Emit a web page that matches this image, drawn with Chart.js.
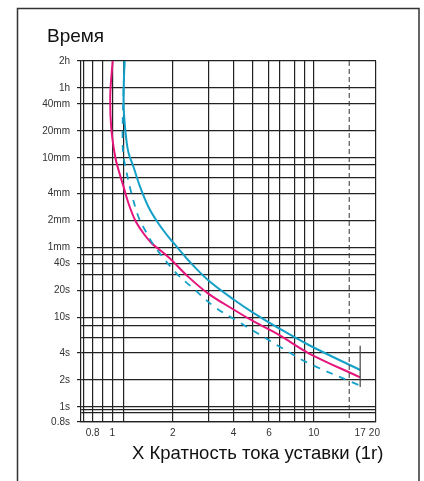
<!DOCTYPE html>
<html><head><meta charset="utf-8">
<script src="https://cdn.jsdelivr.net/npm/chart.js@4/dist/chart.umd.min.js"></script>
<style>html,body{margin:0;padding:0;background:#fff}canvas{display:block}</style>
</head><body>
<canvas id="c" width="424" height="481"></canvas>
<script>
// ---- axis ranges & ticks ----
const xMin = 0.717, xMax = 20.37;
const yMin = 0.68, yMax = 7200;
const xTickValues = [0.717, 0.8, 0.9, 1, 1.14, 2, 3, 4, 5, 6, 6.8, 8, 9, 10, 17, 20, 20.37];
const xTickLabels = ['', '0.8', '', '1', '', '2', '', '4', '', '6', '', '', '', '10', '17', '20', ''];
const xNoGrid = [17, 20];
const yTickValues = [7200, 3600, 2400, 1200, 600, 500, 360, 240, 120, 60, 50, 40, 30, 20, 10, 8, 6, 4, 2, 1, 0.93, 0.86, 0.68];
const yTickLabels = ['2h', '1h', '40mm', '20mm', '10mm', '', '', '4mm', '2mm', '1mm', '', '40s', '', '20s', '10s', '', '', '4s', '2s', '1s', '', '', '0.8s'];

// ---- texts ----
const titleText = 'Время';
const xTitleText = 'X Кратность тока уставки (1r)';

// ---- series (multiple of setting, time in seconds) ----
const magentaX = [1.005, 0.978, 0.989, 1.035, 1.075, 1.138, 1.204, 1.298, 1.428, 1.569, 1.724, 1.968, 2.379, 2.985, 4.036, 5.063, 6.72, 9.45, 16.98];
const magentaY = [7200, 3006, 1289, 613, 439, 286, 186.6, 121.6, 86.4, 66.8, 56.3, 43.5, 28.4, 18.5, 12.06, 8.93, 6.35, 3.97, 2.14];

const cyanX = [1.151, 1.138, 1.159, 1.202, 1.275, 1.374, 1.511, 1.693, 1.896, 2.123, 2.379, 2.985, 4.036, 5.063, 6.72, 9.45, 16.98];
const cyanY = [7200, 2578, 1289, 696, 477, 286, 171, 111.6, 79.2, 58.8, 43.5, 26.1, 15.6, 11.08, 7.54, 4.91, 2.585];

const dashX = [1.151, 1.135, 1.125, 1.139, 1.181, 1.24, 1.349, 1.454, 1.628, 2.083, 2.47, 3.217, 4.355, 5.26, 6.99, 9.45, 16.98];
const dashY = [7200, 2646, 948, 613, 403, 251, 132.3, 94, 61.2, 30.9, 21.9, 13.1, 8.57, 6.63, 4.51, 3.07, 1.73];

const limitLineX = [15, 15];
const limitLineY = [7200, 0.68];
const endLineX = [17, 17];
const endLineY = [4.8, 1.67];

const zip = (xs, ys) => xs.map((x, i) => ({x, y: ys[i]}));
const FONT = '"Liberation Sans", Arial, sans-serif';

const framePlugin = {
  id: 'frame',
  beforeDraw(chart) {
    const c = chart.ctx;
    c.save();
    c.fillStyle = '#fff';
    c.fillRect(0, 0, chart.width, chart.height);
    c.strokeStyle = '#333';
    c.lineWidth = 1.5;
    c.strokeRect(17.5, 8.5, 401.5, 490);
    c.restore();
  },
  afterDraw(chart) {
    const c = chart.ctx;
    c.save();
    c.fillStyle = '#111';
    c.textBaseline = 'middle';
    c.textAlign = 'left';
    c.font = '19px ' + FONT;
    c.fillText(titleText, 47, 37);
    c.font = '18.5px ' + FONT;
    c.fillText(xTitleText, 132, 454);
    c.restore();
  }
};

const curve = (xs, ys, color, width, dash) => ({
  data: zip(xs, ys), showLine: true, borderColor: color, borderWidth: width,
  borderDash: dash || [], pointRadius: 0, tension: 0.35
});

new Chart(document.getElementById('c'), {
  type: 'scatter',
  data: {
    datasets: [
      {data: zip(limitLineX, limitLineY), showLine: true, borderColor: '#333', borderWidth: 1, borderDash: [5, 3], pointRadius: 0, tension: 0},
      {data: zip(endLineX, endLineY), showLine: true, borderColor: '#444', borderWidth: 1.2, pointRadius: 0, tension: 0},
      curve(dashX, dashY, '#15a0c8', 1.8, [7, 7]),
      curve(cyanX, cyanY, '#15a0c8', 2),
      curve(magentaX, magentaY, '#e6157c', 2)
    ]
  },
  options: {
    responsive: false,
    animation: false,
    devicePixelRatio: 1,
    events: [],
    layout: {padding: {left: 0, right: 48, top: 61, bottom: 39}},
    plugins: {legend: {display: false}, tooltip: {enabled: false}, title: {display: false}},
    scales: {
      x: {
        type: 'logarithmic', min: xMin, max: xMax,
        afterBuildTicks: s => { s.ticks = xTickValues.map(v => ({value: v})); },
        afterFit: s => { s.height = 20; },
        ticks: {autoSkip: false, minRotation: 0, maxRotation: 0, padding: 5, color: '#333',
          font: {size: 10, family: FONT}, callback: (v, i) => xTickLabels[i]},
        grid: {drawTicks: false, lineWidth: 1.2,
          color: ctx => (ctx.tick && xNoGrid.includes(ctx.tick.value)) ? 'rgba(0,0,0,0)' : '#222'},
        border: {display: true, color: '#222', width: 1.2}
      },
      y: {
        type: 'logarithmic', min: yMin, max: yMax,
        afterBuildTicks: s => { s.ticks = yTickValues.map(v => ({value: v})); },
        afterFit: s => { s.width = 81; },
        ticks: {autoSkip: false, padding: 7, color: '#333',
          font: {size: 10, family: FONT}, callback: (v, i) => yTickLabels[i]},
        grid: {drawTicks: true, tickLength: 4, lineWidth: 1.2, color: '#222',
          tickColor: ctx => (ctx.index !== undefined && yTickLabels[ctx.index]) ? '#222' : 'rgba(0,0,0,0)'},
        border: {display: true, color: '#222', width: 1.2}
      }
    }
  },
  plugins: [framePlugin]
});
</script>
</body></html>
